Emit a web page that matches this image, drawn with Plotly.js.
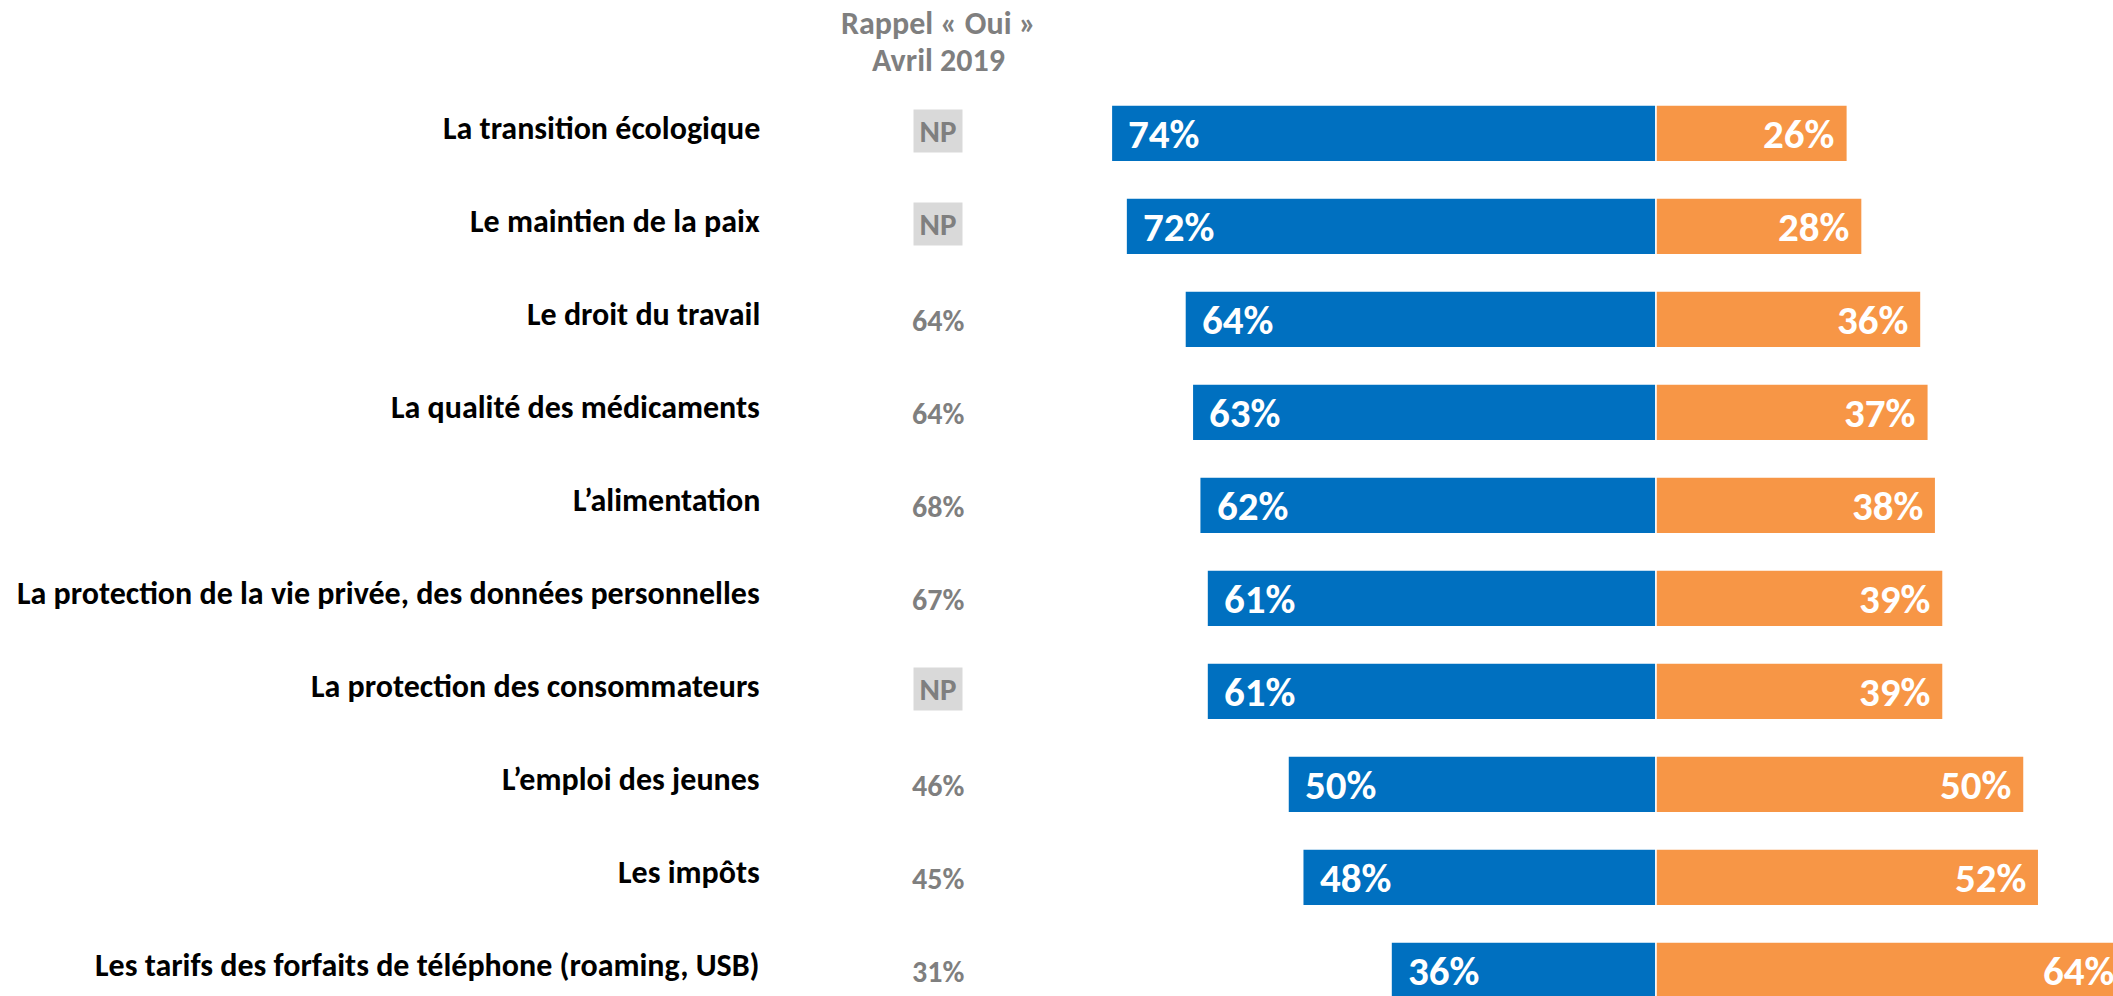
<!DOCTYPE html>
<html><head><meta charset="utf-8">
<script src="https://cdn.plot.ly/plotly-3.0.1.min.js"></script>
<style>html,body{margin:0;padding:0;overflow:hidden;background:#fff}#chart{width:2140px;height:996px}</style>
</head><body><div id="chart"></div>
<script>
const categories = [
  "La transition écologique",
  "Le maintien de la paix",
  "Le droit du travail",
  "La qualité des médicaments",
  "L’alimentation",
  "La protection de la vie privée, des données personnelles",
  "La protection des consommateurs",
  "L’emploi des jeunes",
  "Les impôts",
  "Les tarifs des forfaits de téléphone (roaming, USB)"
];
const ouiNow = [74, 72, 64, 63, 62, 61, 61, 50, 48, 36];
const nonNow = [26, 28, 36, 37, 38, 39, 39, 50, 52, 64];
const rappelOui = ["NP", "NP", "64%", "64%", "68%", "67%", "NP", "46%", "45%", "31%"];
const headerLines = ["Rappel « Oui »", "Avril 2019"];

const FONT = "Carlito, 'Liberation Sans Narrow', 'DejaVu Sans Condensed', 'Open Sans', sans-serif";
const BLUE = "#0070c0", ORANGE = "#f79646", GRAY = "#7f7f7f";
const W = 2140, H = 996;

const traces = [
  {type: "bar", orientation: "h", y: categories, x: ouiNow.map(v => -v), width: 0.61,
   marker: {color: BLUE, line: {color: "#ffffff", width: 1.5}}, hoverinfo: "skip"},
  {type: "bar", orientation: "h", y: categories, x: nonNow, width: 0.61,
   marker: {color: ORANGE, line: {color: "#ffffff", width: 1.5}}, hoverinfo: "skip"}
];

const ann = [];
categories.forEach((c, i) => {
  ann.push({xref: "paper", yref: "y", x: 762 / W, y: c, xanchor: "right", yanchor: "middle",
    text: "<b>" + c + "</b>", showarrow: false, yshift: 5,
    font: {family: FONT, size: 32, color: "#000000"}});
  const r = rappelOui[i];
  const np = r === "NP";
  ann.push({xref: "paper", yref: "y", x: 938 / W, y: c, xanchor: "center", yanchor: "middle",
    text: "<b>" + r + "</b>", showarrow: false, yshift: np ? 2 : -1,
    bgcolor: np ? "#d9d9d9" : "rgba(0,0,0,0)", width: np ? 46 : undefined, height: np ? 40 : undefined,
    font: {family: FONT, size: np ? 31 : 30, color: GRAY}});
  ann.push({xref: "x", yref: "y", x: -ouiNow[i], y: c, xanchor: "left", yanchor: "middle",
    text: "<b>" + ouiNow[i] + "%</b>", showarrow: false, xshift: 15, yshift: -1,
    font: {family: FONT, size: 41, color: "#ffffff"}});
  ann.push({xref: "x", yref: "y", x: nonNow[i], y: c, xanchor: "right", yanchor: "middle",
    text: "<b>" + nonNow[i] + "%</b>", showarrow: false, xshift: -11, yshift: -1,
    font: {family: FONT, size: 41, color: "#ffffff"}});
});
const headerY = [24, 61];
headerLines.forEach((t, k) => {
  ann.push({xref: "paper", yref: "paper", x: 938 / W, y: 1 - headerY[k] / H, xanchor: "center", yanchor: "middle",
    text: "<b>" + t + "</b>", showarrow: false,
    font: {family: FONT, size: 32, color: GRAY}});
});

const layout = {
  width: W, height: H, margin: {l: 0, r: 0, t: 0, b: 0},
  paper_bgcolor: "#ffffff", plot_bgcolor: "#ffffff",
  barmode: "relative", showlegend: false,
  xaxis: {range: [-1656 / 7.36, (W - 1656) / 7.36], visible: false, fixedrange: true},
  yaxis: {type: "category", categoryarray: categories, categoryorder: "array",
          range: [(H - 133.4) / 93, -133.4 / 93], visible: false, fixedrange: true},
  annotations: ann
};
Plotly.newPlot("chart", traces, layout, {displayModeBar: false, staticPlot: true});
</script></body></html>
